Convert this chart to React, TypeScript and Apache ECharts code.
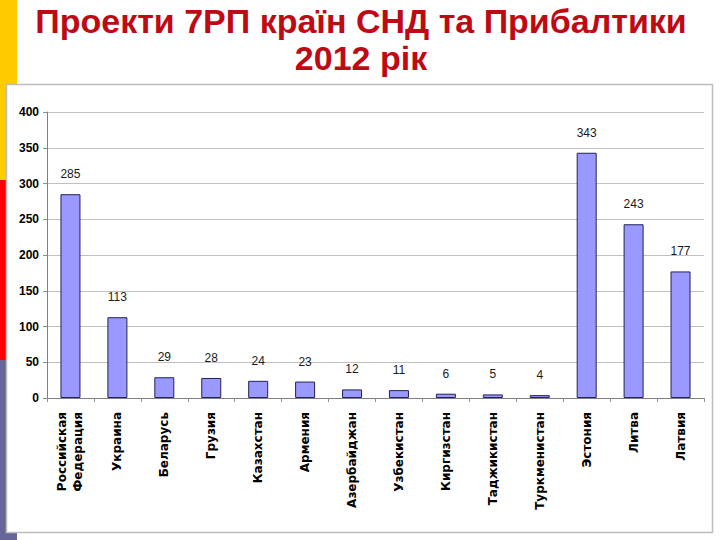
import React, { useEffect, useRef } from "react";
import * as echarts from "echarts";

const titleLine1 = "Проекти 7РП країн СНД та Прибалтики";
const titleLine2 = "2012 рік";

const categories = [
  "Российская\nФедерация",
  "Украина",
  "Беларусь",
  "Грузия",
  "Казахстан",
  "Армения",
  "Азербайджан",
  "Узбекистан",
  "Киргизстан",
  "Таджикистан",
  "Туркменистан",
  "Эстония",
  "Литва",
  "Латвия",
];

const projects = [285, 113, 29, 28, 24, 23, 12, 11, 6, 5, 4, 343, 243, 177];

const yMin = 0;
const yMax = 400;
const yStep = 50;

const FONT = "'Liberation Sans', Arial, sans-serif";
const WIDE_FONT = "'DejaVu Sans', Verdana, sans-serif";

export default function App() {
  const ref = useRef<HTMLDivElement>(null);

  useEffect(() => {
    if (!ref.current) return;
    const chart = echarts.init(ref.current, null, { renderer: "svg" });
    chart.setOption({
      animation: false,
      backgroundColor: "#ffffff",
      graphic: [
        { type: "rect", z: -10, shape: { x: 0, y: 0, width: 17, height: 180 }, style: { fill: "#FFCC00" } },
        { type: "rect", z: -10, shape: { x: 0, y: 180, width: 17, height: 180 }, style: { fill: "#FF0000" } },
        { type: "rect", z: -10, shape: { x: 0, y: 360, width: 17, height: 180 }, style: { fill: "#666699" } },
        {
          type: "rect",
          z: -5,
          shape: { x: 6.5, y: 84.5, width: 706, height: 448 },
          style: { fill: "#ffffff", stroke: "#bdbdbd", lineWidth: 1.5 },
        },
        {
          type: "text",
          x: 361,
          y: 21,
          style: {
            text: titleLine1,
            font: `bold 34px ${FONT}`,
            fill: "#BE0A14",
            align: "center",
            verticalAlign: "middle",
          },
        },
        {
          type: "text",
          x: 361,
          y: 58,
          style: {
            text: titleLine2,
            font: `bold 34px ${FONT}`,
            fill: "#BE0A14",
            align: "center",
            verticalAlign: "middle",
          },
        },
      ],
      grid: { left: 47, right: 16, top: 112, bottom: 142, containLabel: false },
      xAxis: {
        type: "category",
        data: categories,
        boundaryGap: true,
        axisLine: { show: true, lineStyle: { color: "#808080", width: 1 } },
        axisTick: { show: true, alignWithLabel: false, length: 4, lineStyle: { color: "#909090" } },
        axisLabel: {
          rotate: 90,
          interval: 0,
          margin: 14,
          fontFamily: WIDE_FONT,
          fontWeight: "bold",
          fontSize: 12,
          lineHeight: 16,
          color: "#000000",
        },
      },
      yAxis: {
        type: "value",
        min: yMin,
        max: yMax,
        interval: yStep,
        axisLine: { show: true, lineStyle: { color: "#808080", width: 1 } },
        axisTick: { show: true, length: 4, lineStyle: { color: "#909090" } },
        splitLine: { show: true, lineStyle: { color: "#c0c0c0", width: 1 } },
        axisLabel: {
          margin: 8,
          fontFamily: FONT,
          fontWeight: "bold",
          fontSize: 12,
          color: "#000000",
        },
      },
      series: [
        {
          type: "bar",
          data: projects,
          barWidth: 20,
          itemStyle: { color: "#9999FF", borderColor: "#222255", borderWidth: 1 },
          label: {
            show: true,
            position: "top",
            distance: 14,
            fontFamily: FONT,
            fontSize: 12,
            color: "#1a1a1a",
          },
        },
      ],
    });
    return () => chart.dispose();
  }, []);

  return (
    <div
      ref={ref}
      style={{ position: "absolute", left: 0, top: 0, width: 720, height: 540 }}
    />
  );
}
